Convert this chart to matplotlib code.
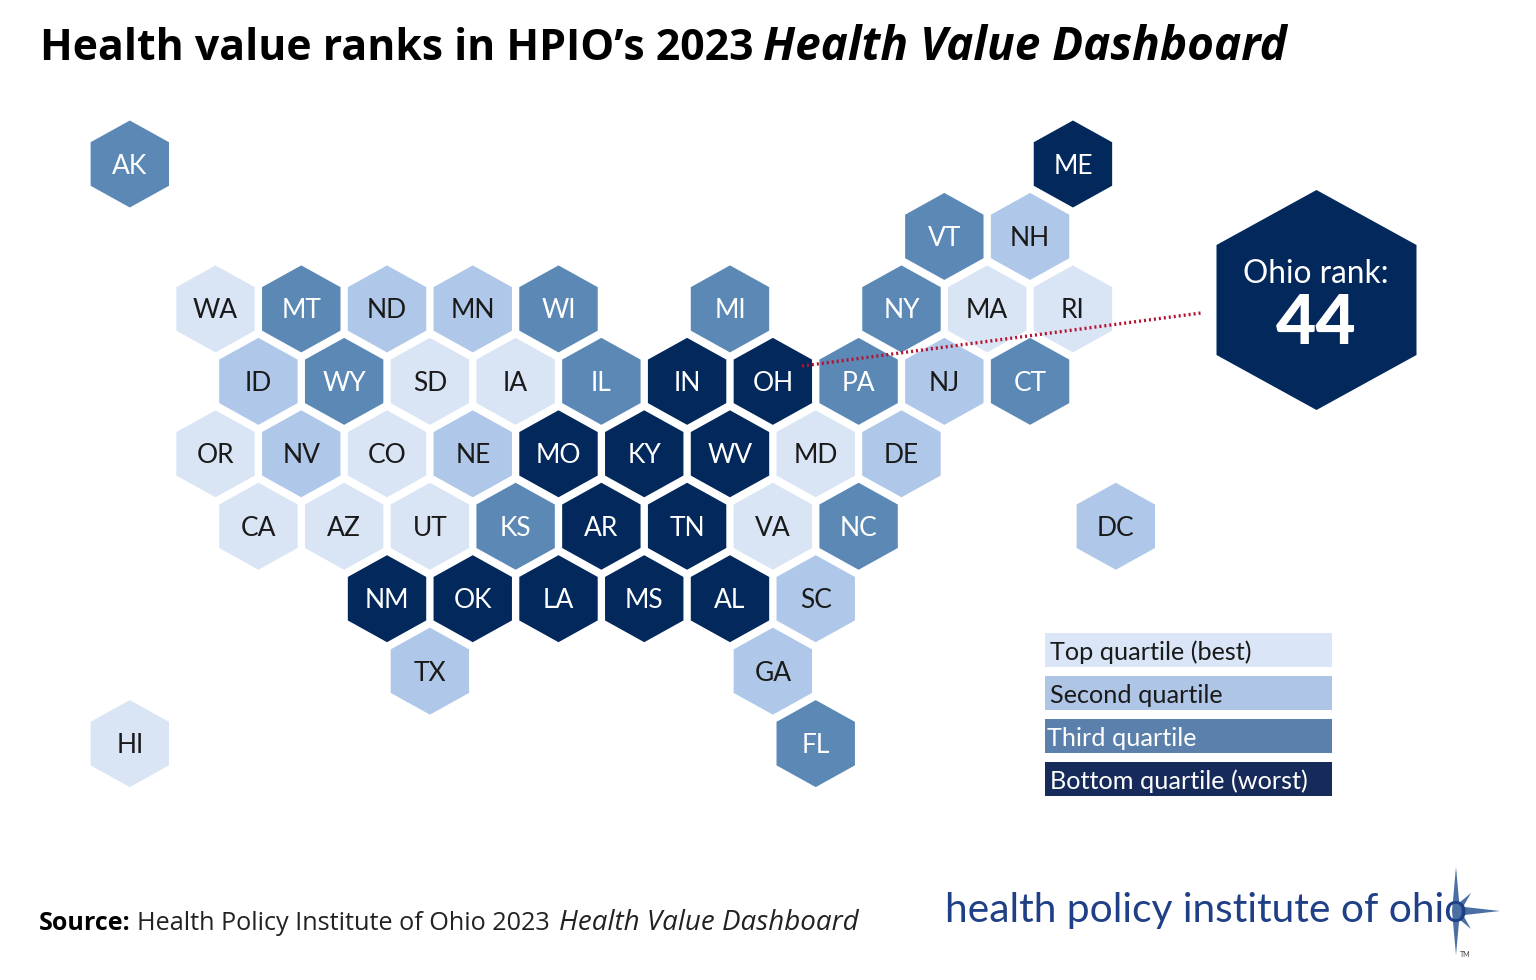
import matplotlib
matplotlib.use("Agg")
import matplotlib.pyplot as plt
from matplotlib.patches import Polygon, Rectangle

# state, column (half steps), row
states = ["AK","ME","VT","NH","WA","MT","ND","MN","WI","MI","NY","MA","RI",
          "ID","WY","SD","IA","IL","IN","OH","PA","NJ","CT",
          "OR","NV","CO","NE","MO","KY","WV","MD","DE",
          "CA","AZ","UT","KS","AR","TN","VA","NC","DC",
          "NM","OK","LA","MS","AL","SC","TX","GA","HI","FL"]
cols = [0,22,19,21,2,4,6,8,10,14,18,20,22,
        3,5,7,9,11,13,15,17,19,21,
        2,4,6,8,10,12,14,16,18,
        3,5,7,9,11,13,15,17,23,
        6,8,10,12,14,16,7,15,0,16]
rows = [0,0,1,1,2,2,2,2,2,2,2,2,2,
        3,3,3,3,3,3,3,3,3,3,
        4,4,4,4,4,4,4,4,4,
        5,5,5,5,5,5,5,5,5,
        6,6,6,6,6,6,7,7,8,8]
quartile = [3,4,3,2,1,3,2,2,3,3,3,1,1,
            2,3,1,1,3,4,4,3,2,3,
            1,2,1,2,4,4,4,1,2,
            1,1,1,3,4,4,1,3,2,
            4,4,4,4,4,2,2,2,1,3]

quartile_colors = {1:"#D9E4F5", 2:"#AFC7E8", 3:"#5B88B5", 4:"#03285C"}
legend_labels = ["Top quartile (best)", "Second quartile", "Third quartile", "Bottom quartile (worst)"]
legend_colors = ["#DAE6F7", "#AEC5E5", "#5A80AB", "#172B5A"]
legend_text = ["#1A1A1A", "#1A1A1A", "white", "white"]

FONT = "Lato"
NAVY = "#03285C"

def hexagon(ax, cx, cy, hw, hh, color):
    pts = [(cx, cy-hh), (cx+hw, cy-hh/2), (cx+hw, cy+hh/2),
           (cx, cy+hh), (cx-hw, cy+hh/2), (cx-hw, cy-hh/2)]
    ax.add_patch(Polygon(pts, closed=True, facecolor=color, edgecolor="none"))

fig = plt.figure(figsize=(15.36, 9.8), dpi=100)
ax = fig.add_axes([0, 0, 1, 1])
ax.set_xlim(0, 1536)
ax.set_ylim(980, 0)
ax.axis("off")

ax.text(40, 48, "Health value ranks in HPIO’s 2023", fontsize=30.8, fontweight="bold",
        family="Open Sans", va="center", ha="left", color="black")
ax.text(763, 48, "Health Value Dashboard", fontsize=33, fontweight="bold", style="italic",
        family="Open Sans", va="center", ha="left", color="black")

for s, c, r, q in zip(states, cols, rows, quartile):
    x = 129.8 + 42.87*c
    y = 164 + 72.45*r
    hexagon(ax, x, y, 39.2, 43.5, quartile_colors[q])
    ax.text(x, y+2, s, fontsize=19, family=FONT, ha="center", va="center",
            color="#1A1A1A" if q < 3 else "white")

# Ohio callout
hexagon(ax, 1316.5, 300, 100, 110, NAVY)
ax.text(1316, 274, "Ohio rank:", fontsize=22.7, family=FONT, color="white", ha="center", va="center")
ax.text(1316, 324, "44", fontsize=50, family=FONT, fontweight="black", color="white", ha="center", va="center")
ax.plot([802, 1201], [366, 313], color="#B5122F", lw=2.4, linestyle=(0, (0.6, 0.9)))

# legend
for i, lab in enumerate(legend_labels):
    y = 633 + 43*i
    ax.add_patch(Rectangle((1045, y), 287, 34, facecolor=legend_colors[i], edgecolor="none"))
    ax.text(1047 if i == 2 else 1050, y+19, lab, fontsize=18.2, family=FONT, color=legend_text[i],
            ha="left", va="center")

# source line
ax.text(39, 923, "Source:", fontsize=18, fontweight="bold", family="Open Sans", va="center")
ax.text(137, 923, "Health Policy Institute of Ohio 2023", fontsize=18.2, family="Open Sans", va="center", color="#222222")
ax.text(559, 923, "Health Value Dashboard", fontsize=20, style="italic", family="Open Sans", va="center", color="#222222")

# logo
star = "#4C6FA3"
cx, cy = 1456, 911
ax.add_patch(Polygon([(cx, cy-44), (cx+4, cy), (cx, cy+44), (cx-4, cy)], facecolor=star, edgecolor="none"))
ax.add_patch(Polygon([(cx, cy-5), (cx+44, cy), (cx, cy+5)], facecolor=star, edgecolor="none"))
ax.add_patch(Polygon([(cx-3, cy-3), (cx+15, cy-18), (cx+3, cy+3)], facecolor=star, edgecolor="none"))
ax.add_patch(Polygon([(cx+3, cy-3), (cx+15, cy+18), (cx-3, cy+3)], facecolor=star, edgecolor="none"))
ax.text(945, 910, "health policy institute of ohio", fontsize=29.3, family=FONT, color="#1F3F86",
        ha="left", va="center")
ax.text(1465, 954, "TM", fontsize=5, family=FONT, color="#444444", ha="center", va="center")

fig.savefig("out.png", dpi=100, facecolor="white")
